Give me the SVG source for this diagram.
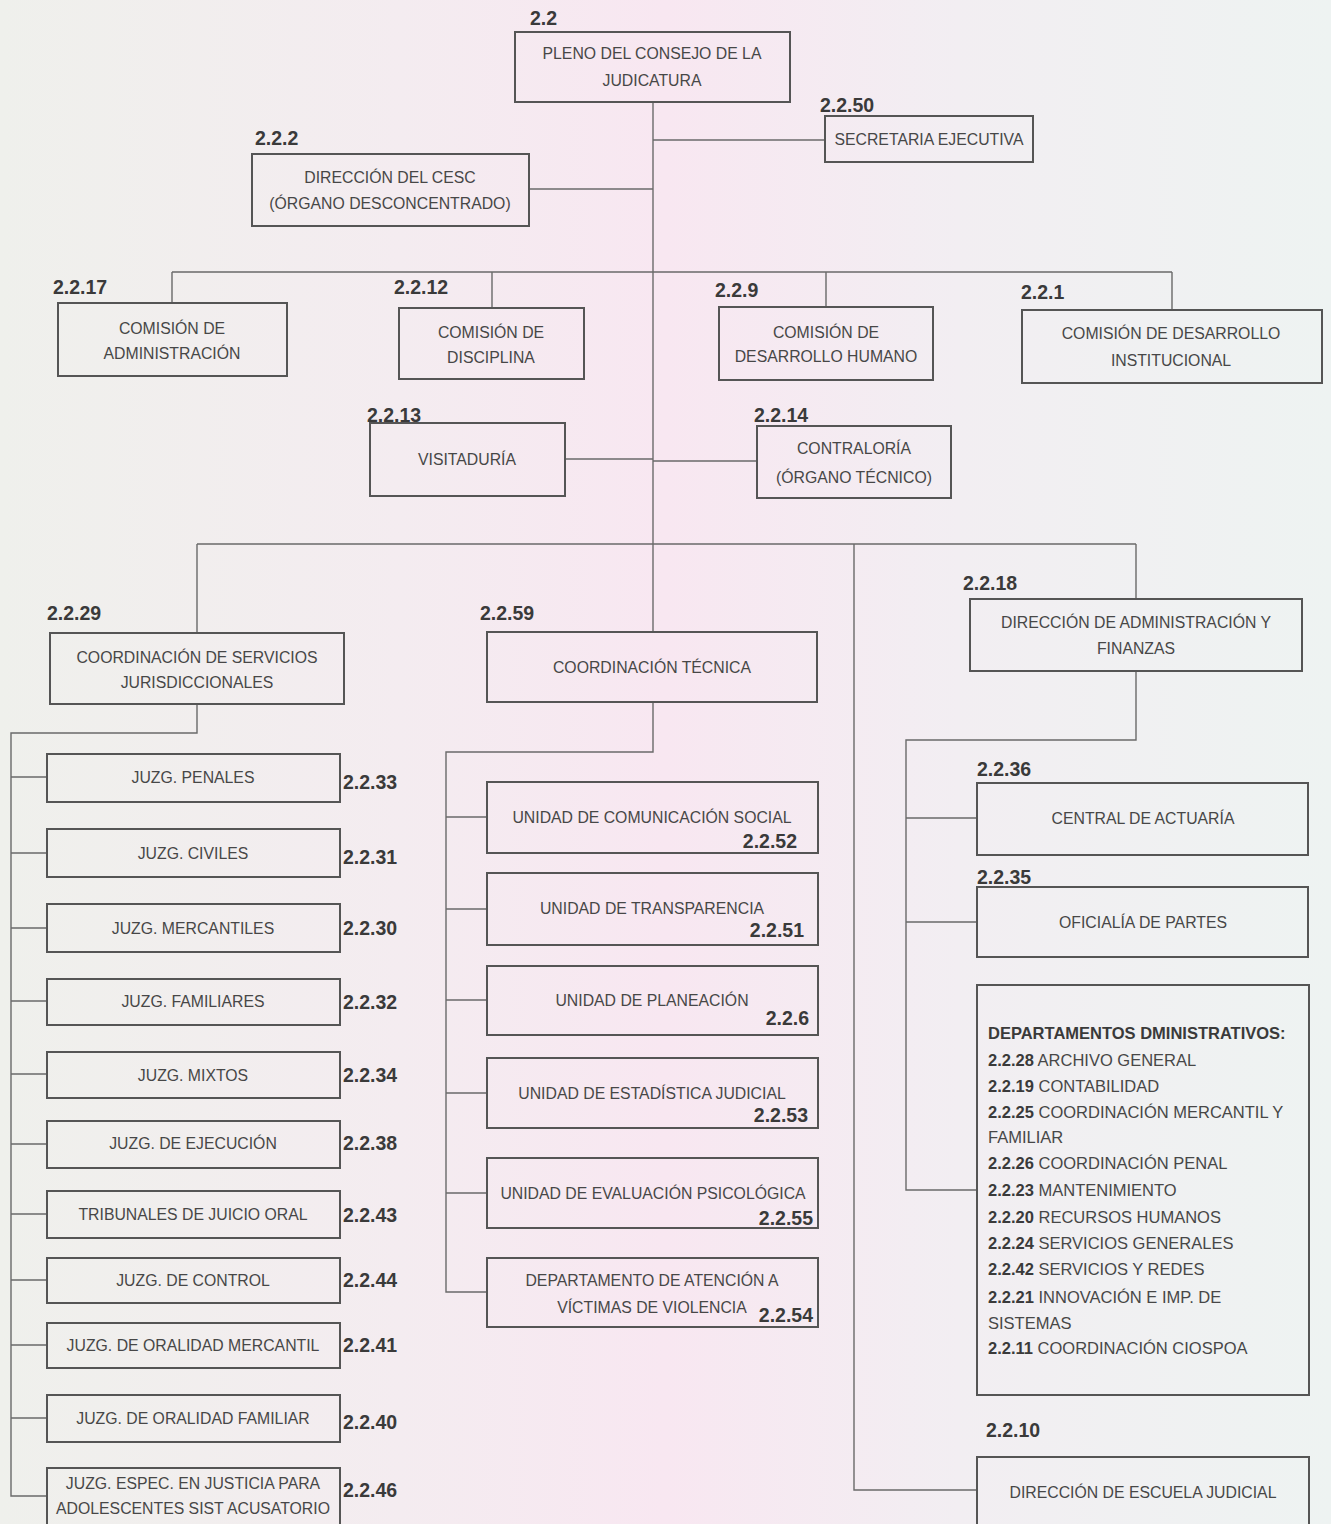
<svg xmlns="http://www.w3.org/2000/svg" width="1331" height="1524" viewBox="0 0 1331 1524">
<defs>
<linearGradient id="bg" x1="0" y1="0" x2="1" y2="0">
<stop offset="0" stop-color="#eff0ec"/>
<stop offset="0.3" stop-color="#f4ecf0"/>
<stop offset="0.5" stop-color="#f8e7f1"/>
<stop offset="0.72" stop-color="#f2eef2"/>
<stop offset="1" stop-color="#eef3f2"/>
</linearGradient>
<style>
.box{fill:none;stroke:#555;stroke-width:2}
.t{font-family:"Liberation Sans",Arial,sans-serif;font-size:15.8px;fill:#474747;text-anchor:middle}
.tl{font-family:"Liberation Sans",Arial,sans-serif;font-size:16.5px;fill:#474747}
.lb{font-family:"Liberation Sans",Arial,sans-serif;font-size:19.5px;font-weight:bold;fill:#3a3a3a}
.lr{text-anchor:end}
.b{font-weight:bold;fill:#3a3a3a}
.c{fill:none;stroke:#6a6a6a;stroke-width:1.4}
</style>
</defs>
<rect width="1331" height="1524" fill="url(#bg)"/>

<g id="connectors">
<path class="c" d="M653,102 V632"/>
<path class="c" d="M653,140 H825"/>
<path class="c" d="M529,189 H653"/>
<path class="c" d="M172,272 H1172 M172,272 V303 M492,272 V308 M826,272 V307 M1172,272 V310"/>
<path class="c" d="M565,459 H653 M653,461 H757"/>
<path class="c" d="M197,544 H1136 M197,544 V633 M854,544 V1490 H977 M1136,544 V599"/>
<path class="c" d="M197,704 V733 H11 V1496 H47 M11,777 H47 M11,853 H47 M11,928 H47 M11,1001 H47 M11,1074 H47 M11,1144 H47 M11,1214 H47 M11,1280 H47 M11,1345 H47 M11,1418 H47"/>
<path class="c" d="M653,702 V752 H446 V1292 H487 M446,817 H487 M446,909 H487 M446,1000 H487 M446,1093 H487 M446,1193 H487"/>
<path class="c" d="M1136,671 V740 H906 V1190 H977 M906,818 H977 M906,922 H977"/>
</g>

<g id="n2_2">
<text class="lb" x="530" y="25">2.2</text>
<rect class="box" x="515" y="32" width="275" height="70"/>
<text class="t" x="652" y="59">PLENO DEL CONSEJO DE LA</text>
<text class="t" x="652" y="86">JUDICATURA</text>
</g>
<g id="n2_2_50">
<text class="lb" x="820" y="112">2.2.50</text>
<rect class="box" x="825" y="116" width="208" height="46"/>
<text class="t" x="929" y="145">SECRETARIA EJECUTIVA</text>
</g>
<g id="n2_2_2">
<text class="lb" x="255" y="145">2.2.2</text>
<rect class="box" x="252" y="154" width="277" height="72"/>
<text class="t" x="390" y="183">DIRECCIÓN DEL CESC</text>
<text class="t" x="390" y="209">(ÓRGANO DESCONCENTRADO)</text>
</g>
<g id="n2_2_17">
<text class="lb" x="53" y="294">2.2.17</text>
<rect class="box" x="58" y="303" width="229" height="73"/>
<text class="t" x="172" y="334">COMISIÓN DE</text>
<text class="t" x="172" y="359">ADMINISTRACIÓN</text>
</g>
<g id="n2_2_12">
<text class="lb" x="394" y="294">2.2.12</text>
<rect class="box" x="399" y="308" width="185" height="71"/>
<text class="t" x="491" y="338">COMISIÓN DE</text>
<text class="t" x="491" y="363">DISCIPLINA</text>
</g>
<g id="n2_2_9">
<text class="lb" x="715" y="297">2.2.9</text>
<rect class="box" x="719" y="307" width="214" height="73"/>
<text class="t" x="826" y="338">COMISIÓN DE</text>
<text class="t" x="826" y="362">DESARROLLO HUMANO</text>
</g>
<g id="n2_2_1">
<text class="lb" x="1021" y="299">2.2.1</text>
<rect class="box" x="1022" y="310" width="300" height="73"/>
<text class="t" x="1171" y="339">COMISIÓN DE DESARROLLO</text>
<text class="t" x="1171" y="366">INSTITUCIONAL</text>
</g>
<g id="n2_2_13">
<text class="lb" x="367" y="422">2.2.13</text>
<rect class="box" x="370" y="423" width="195" height="73"/>
<text class="t" x="467" y="465">VISITADURÍA</text>
</g>
<g id="n2_2_14">
<text class="lb" x="754" y="422">2.2.14</text>
<rect class="box" x="757" y="426" width="194" height="72"/>
<text class="t" x="854" y="454">CONTRALORÍA</text>
<text class="t" x="854" y="483">(ÓRGANO TÉCNICO)</text>
</g>
<g id="n2_2_29">
<text class="lb" x="47" y="620">2.2.29</text>
<rect class="box" x="50" y="633" width="294" height="71"/>
<text class="t" x="197" y="663">COORDINACIÓN DE SERVICIOS</text>
<text class="t" x="197" y="688">JURISDICCIONALES</text>
</g>
<g id="n2_2_59">
<text class="lb" x="480" y="620">2.2.59</text>
<rect class="box" x="487" y="632" width="330" height="70"/>
<text class="t" x="652" y="673">COORDINACIÓN TÉCNICA</text>
</g>
<g id="n2_2_18">
<text class="lb" x="963" y="590">2.2.18</text>
<rect class="box" x="970" y="599" width="332" height="72"/>
<text class="t" x="1136" y="628">DIRECCIÓN DE ADMINISTRACIÓN Y</text>
<text class="t" x="1136" y="654">FINANZAS</text>
</g>

<g id="n2_2_33"><rect class="box" x="47" y="754" width="293" height="48"/><text class="t" x="193" y="783">JUZG. PENALES</text><text class="lb" x="343" y="789">2.2.33</text></g>
<g id="n2_2_31"><rect class="box" x="47" y="829" width="293" height="48"/><text class="t" x="193" y="859">JUZG. CIVILES</text><text class="lb" x="343" y="864">2.2.31</text></g>
<g id="n2_2_30"><rect class="box" x="47" y="904" width="293" height="48"/><text class="t" x="193" y="934">JUZG. MERCANTILES</text><text class="lb" x="343" y="935">2.2.30</text></g>
<g id="n2_2_32"><rect class="box" x="47" y="979" width="293" height="46"/><text class="t" x="193" y="1007">JUZG. FAMILIARES</text><text class="lb" x="343" y="1009">2.2.32</text></g>
<g id="n2_2_34"><rect class="box" x="47" y="1052" width="293" height="46"/><text class="t" x="193" y="1081">JUZG. MIXTOS</text><text class="lb" x="343" y="1082">2.2.34</text></g>
<g id="n2_2_38"><rect class="box" x="47" y="1121" width="293" height="47"/><text class="t" x="193" y="1149">JUZG. DE EJECUCIÓN</text><text class="lb" x="343" y="1150">2.2.38</text></g>
<g id="n2_2_43"><rect class="box" x="47" y="1191" width="293" height="47"/><text class="t" x="193" y="1220">TRIBUNALES DE JUICIO ORAL</text><text class="lb" x="343" y="1222">2.2.43</text></g>
<g id="n2_2_44"><rect class="box" x="47" y="1258" width="293" height="45"/><text class="t" x="193" y="1286">JUZG. DE CONTROL</text><text class="lb" x="343" y="1287">2.2.44</text></g>
<g id="n2_2_41"><rect class="box" x="47" y="1323" width="293" height="45"/><text class="t" x="193" y="1351">JUZG. DE ORALIDAD MERCANTIL</text><text class="lb" x="343" y="1352">2.2.41</text></g>
<g id="n2_2_40"><rect class="box" x="47" y="1395" width="293" height="47"/><text class="t" x="193" y="1424">JUZG. DE ORALIDAD FAMILIAR</text><text class="lb" x="343" y="1429">2.2.40</text></g>
<g id="n2_2_46"><rect class="box" x="47" y="1468" width="293" height="70"/><text class="t" x="193" y="1489">JUZG. ESPEC. EN JUSTICIA PARA</text><text class="t" x="193" y="1514">ADOLESCENTES SIST ACUSATORIO</text><text class="lb" x="343" y="1497">2.2.46</text></g>

<g id="n2_2_52"><rect class="box" x="487" y="782" width="331" height="71"/><text class="t" x="652" y="823">UNIDAD DE COMUNICACIÓN SOCIAL</text><text class="lb lr" x="797" y="848">2.2.52</text></g>
<g id="n2_2_51"><rect class="box" x="487" y="873" width="331" height="72"/><text class="t" x="652" y="914">UNIDAD DE TRANSPARENCIA</text><text class="lb lr" x="804" y="937">2.2.51</text></g>
<g id="n2_2_6"><rect class="box" x="487" y="966" width="331" height="69"/><text class="t" x="652" y="1006">UNIDAD DE PLANEACIÓN</text><text class="lb lr" x="809" y="1025">2.2.6</text></g>
<g id="n2_2_53"><rect class="box" x="487" y="1058" width="331" height="70"/><text class="t" x="652" y="1099">UNIDAD DE ESTADÍSTICA JUDICIAL</text><text class="lb lr" x="808" y="1122">2.2.53</text></g>
<g id="n2_2_55"><rect class="box" x="487" y="1158" width="331" height="70"/><text class="t" x="653" y="1199">UNIDAD DE EVALUACIÓN PSICOLÓGICA</text><text class="lb lr" x="813" y="1225">2.2.55</text></g>
<g id="n2_2_54"><rect class="box" x="487" y="1258" width="331" height="69"/><text class="t" x="652" y="1286">DEPARTAMENTO DE ATENCIÓN A</text><text class="t" x="652" y="1313">VÍCTIMAS DE VIOLENCIA</text><text class="lb lr" x="813" y="1322">2.2.54</text></g>

<g id="n2_2_36"><text class="lb" x="977" y="776">2.2.36</text><rect class="box" x="977" y="783" width="331" height="72"/><text class="t" x="1143" y="824">CENTRAL DE ACTUARÍA</text></g>
<g id="n2_2_35"><text class="lb" x="977" y="884">2.2.35</text><rect class="box" x="977" y="887" width="331" height="70"/><text class="t" x="1143" y="928">OFICIALÍA DE PARTES</text></g>
<g id="departamentos">
<rect class="box" x="977" y="985" width="332" height="410"/>
<text class="tl b" x="988" y="1039">DEPARTAMENTOS DMINISTRATIVOS:</text>
<text class="tl" x="988" y="1066"><tspan class="b">2.2.28</tspan>  ARCHIVO GENERAL</text>
<text class="tl" x="988" y="1092"><tspan class="b">2.2.19</tspan> CONTABILIDAD</text>
<text class="tl" x="988" y="1118"><tspan class="b">2.2.25</tspan> COORDINACIÓN MERCANTIL Y</text>
<text class="tl" x="988" y="1143">FAMILIAR</text>
<text class="tl" x="988" y="1169"><tspan class="b">2.2.26</tspan> COORDINACIÓN PENAL</text>
<text class="tl" x="988" y="1196"><tspan class="b">2.2.23</tspan> MANTENIMIENTO</text>
<text class="tl" x="988" y="1223"><tspan class="b">2.2.20</tspan> RECURSOS HUMANOS</text>
<text class="tl" x="988" y="1249"><tspan class="b">2.2.24</tspan> SERVICIOS GENERALES</text>
<text class="tl" x="988" y="1275"><tspan class="b">2.2.42</tspan> SERVICIOS Y REDES</text>
<text class="tl" x="988" y="1303"><tspan class="b">2.2.21</tspan> INNOVACIÓN E IMP. DE</text>
<text class="tl" x="988" y="1329">SISTEMAS</text>
<text class="tl" x="988" y="1354"><tspan class="b">2.2.11</tspan> COORDINACIÓN CIOSPOA</text>
</g>
<g id="n2_2_10"><text class="lb" x="986" y="1437">2.2.10</text><rect class="box" x="977" y="1457" width="332" height="80"/><text class="t" x="1143" y="1498">DIRECCIÓN DE ESCUELA JUDICIAL</text></g>
</svg>
